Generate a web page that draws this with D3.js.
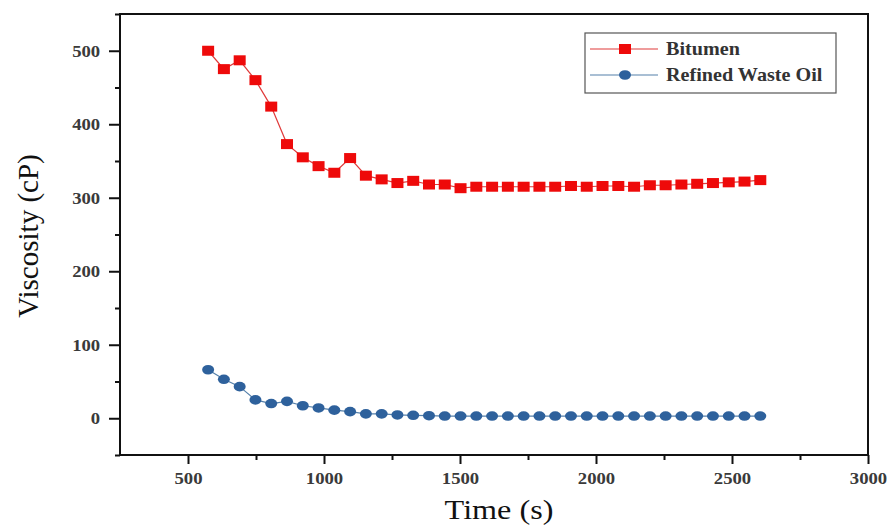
<!DOCTYPE html>
<html>
<head>
<meta charset="utf-8">
<script src="https://cdn.jsdelivr.net/npm/d3@7"></script>
<style>
  html, body { margin: 0; padding: 0; background: #fff; }
  svg { display: block; }
</style>
</head>
<body>
<svg id="chart" width="887" height="525"></svg>
<script>
// Sampling times (s)
const times = [574, 632, 690, 748, 806, 864, 922, 980, 1038, 1096, 1154, 1212,
  1270, 1328, 1386, 1444, 1502, 1560, 1618, 1676, 1734, 1792, 1850, 1908,
  1966, 2024, 2082, 2140, 2198, 2256, 2314, 2372, 2430, 2488, 2546, 2604];

// Viscosity of bitumen (cP)
const bitumen = [500, 475, 487, 460, 424, 373, 355, 343, 334, 354, 330, 325,
  320, 323, 318, 318, 313, 315, 315, 315, 315, 315, 315, 316, 315, 316,
  316, 315, 317, 317, 318, 319, 320, 321, 322, 324];

// Viscosity of refined waste oil (cP)
const wasteOil = [66, 53, 43, 25, 20, 23, 17, 14, 11, 9, 6, 6,
  4.5, 4, 3.5, 3, 3, 3, 3, 3, 3, 3, 3, 3, 3, 3,
  3, 3, 3, 3, 3, 3, 3, 3, 3, 3];

const xMajor = [500, 1000, 1500, 2000, 2500, 3000];
const xMinor = [750, 1250, 1750, 2250, 2750];
const yMajor = [0, 100, 200, 300, 400, 500];
const yMinor = [-50, 50, 150, 250, 350, 450, 550];

const seriesNames = ["Bitumen", "Refined Waste Oil"];

const svg = d3.select("#chart");
const plot = { left: 120, right: 868, top: 14, bottom: 455 };

const x = d3.scaleLinear().domain([250, 3000]).range([plot.left, plot.right]);
const y = d3.scaleLinear().domain([-50, 550]).range([plot.bottom, plot.top]);

const serif = "'Liberation Serif', 'Times New Roman', serif";
const red = "#ee0a0a";
const blue = "#2e619c";

svg.append("rect").attr("width", 887).attr("height", 525).attr("fill", "#fff");

// Minor ticks
svg.append("g")
  .attr("transform", `translate(0,${plot.bottom})`)
  .call(d3.axisBottom(x).tickValues(xMinor).tickSize(5).tickFormat(""))
  .call(g => g.select(".domain").remove())
  .call(g => g.selectAll("line").attr("stroke", "#111").attr("stroke-width", 2));

svg.append("g")
  .attr("transform", `translate(${plot.left},0)`)
  .call(d3.axisLeft(y).tickValues(yMinor).tickSize(5).tickFormat(""))
  .call(g => g.select(".domain").remove())
  .call(g => g.selectAll("line").attr("stroke", "#111").attr("stroke-width", 2));

// Major ticks with labels
svg.append("g")
  .attr("transform", `translate(0,${plot.bottom})`)
  .call(d3.axisBottom(x).tickValues(xMajor).tickSize(9).tickPadding(8).tickFormat(d3.format("d")))
  .call(g => g.select(".domain").remove())
  .call(g => g.selectAll("line").attr("stroke", "#111").attr("stroke-width", 2))
  .call(g => g.selectAll("text")
    .attr("font-family", serif).attr("font-size", 17).attr("font-weight", "bold")
    .attr("fill", "#3a3a3a").attr("transform", "scale(1.1,1)"));

svg.append("g")
  .attr("transform", `translate(${plot.left},0)`)
  .call(d3.axisLeft(y).tickValues(yMajor).tickSize(11).tickPadding(7).tickFormat(d3.format("d")))
  .call(g => g.select(".domain").remove())
  .call(g => g.selectAll("line").attr("stroke", "#111").attr("stroke-width", 2))
  .call(g => g.selectAll("text")
    .attr("font-family", serif).attr("font-size", 17).attr("font-weight", "bold")
    .attr("fill", "#3a3a3a").attr("transform", "scale(1.1,1)"));

// Frame
svg.append("rect")
  .attr("x", plot.left).attr("y", plot.top)
  .attr("width", plot.right - plot.left).attr("height", plot.bottom - plot.top)
  .attr("fill", "none").attr("stroke", "#111").attr("stroke-width", 2);

// Axis titles
svg.append("text")
  .attr("transform", `translate(499,519) scale(1.15,1)`)
  .attr("text-anchor", "middle")
  .attr("font-family", serif).attr("font-size", 28).attr("fill", "#111")
  .text("Time (s)");

svg.append("text")
  .attr("transform", `translate(38,236) rotate(-90)`)
  .attr("text-anchor", "middle")
  .attr("font-family", serif).attr("font-size", 29).attr("fill", "#111")
  .text("Viscosity (cP)");

// Series
const line = d3.line().x(d => x(d[0])).y(d => y(d[1]));
const redData = times.map((t, i) => [t, bitumen[i]]);
const blueData = times.map((t, i) => [t, wasteOil[i]]);

svg.append("path").datum(redData).attr("d", line)
  .attr("fill", "none").attr("stroke", "#e03a3a").attr("stroke-width", 1.2);
svg.append("path").datum(blueData).attr("d", line)
  .attr("fill", "none").attr("stroke", "#5580aa").attr("stroke-width", 1.2);

svg.append("g").selectAll("rect").data(redData).join("rect")
  .attr("x", d => x(d[0]) - 6).attr("y", d => y(d[1]) - 5)
  .attr("width", 12).attr("height", 10).attr("fill", red);

svg.append("g").selectAll("ellipse").data(blueData).join("ellipse")
  .attr("cx", d => x(d[0])).attr("cy", d => y(d[1]))
  .attr("rx", 6).attr("ry", 4.8).attr("fill", blue);

// Legend
const lg = svg.append("g");
lg.append("rect").attr("x", 585).attr("y", 33).attr("width", 251).attr("height", 60)
  .attr("fill", "#fff").attr("stroke", "#555").attr("stroke-width", 1.2);

const legendRows = [
  { name: seriesNames[0], color: "#e03a3a", y: 49, marker: "rect" },
  { name: seriesNames[1], color: "#5580aa", y: 75, marker: "ellipse" }
];
legendRows.forEach(r => {
  lg.append("line").attr("x1", 590).attr("x2", 658).attr("y1", r.y).attr("y2", r.y)
    .attr("stroke", r.color).attr("stroke-width", 1.2);
  if (r.marker === "rect") {
    lg.append("rect").attr("x", 619).attr("y", r.y - 5).attr("width", 12).attr("height", 10).attr("fill", red);
  } else {
    lg.append("ellipse").attr("cx", 625).attr("cy", r.y).attr("rx", 6).attr("ry", 4.8).attr("fill", blue);
  }
  lg.append("text")
    .attr("transform", `translate(666,${r.y + 6}) scale(1.12,1)`)
    .attr("font-family", serif).attr("font-size", 18).attr("font-weight", "bold")
    .attr("fill", "#333").text(r.name);
});
</script>
</body>
</html>
